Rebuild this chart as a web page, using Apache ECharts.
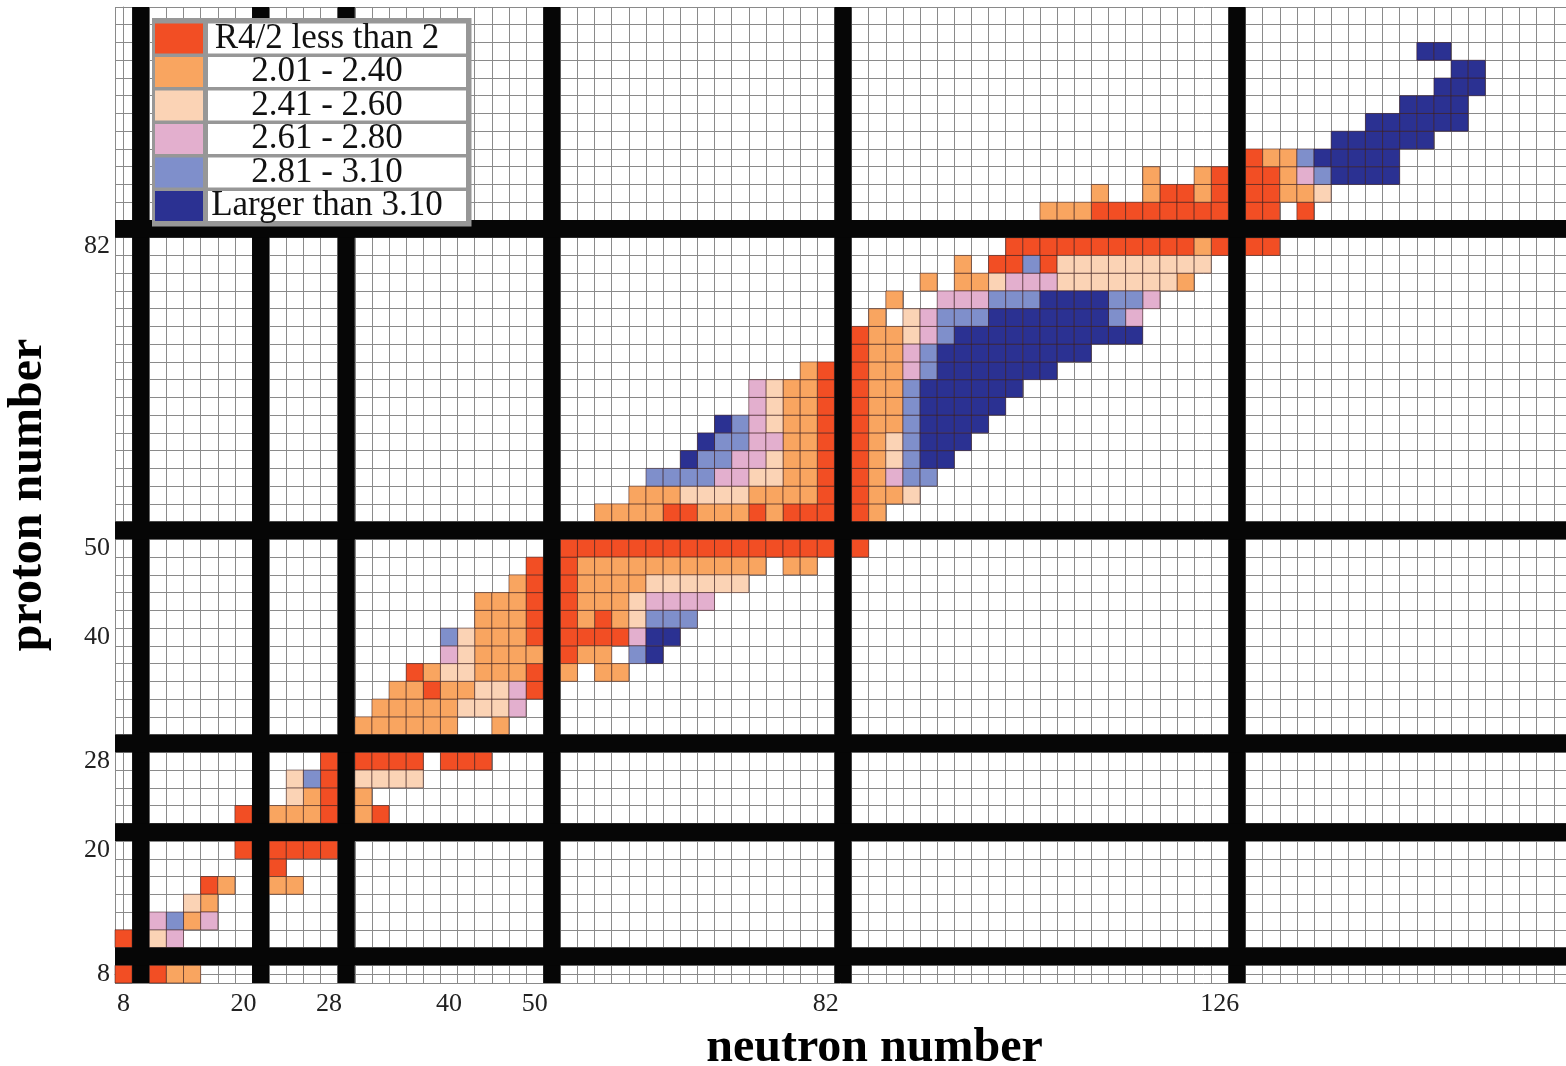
<!DOCTYPE html>
<html>
<head>
<meta charset="utf-8">
<script src="https://cdn.jsdelivr.net/npm/echarts@6/dist/echarts.min.js"></script>
<style>
html,body{margin:0;padding:0;background:#fff;}
#chart{width:1566px;height:1066px;}
</style>
</head>
<body>
<div id="chart"></div>
<script>
// ---- data ----
const CLASS_KEYS = ['R','O','P','K','L','B'];
const CLASS_NAMES = ['R4/2 less than 2','2.01 - 2.40','2.41 - 2.60','2.61 - 2.80','2.81 - 3.10','Larger than 3.10'];
const CLASS_COLORS = ['#F24E24','#F9A560','#FBD3B5','#E3AFCE','#7F8FCB','#2B3192'];

const N_MAGIC = [8,20,28,50,82,126];
const Z_MAGIC = [8,20,28,50,82];
const N_RANGE = [8,164];
const Z_RANGE = [8,106];
const N_TICKS = [8,20,28,40,50,82,126];
const Z_TICKS = [8,20,28,40,50,82];

// runs of even-even nuclei: [Z, N from, N to, R4/2 class]
const R42_RUNS = [
 [8,8,8,'R'],[8,10,10,'R'],[8,12,14,'O'],
 [10,8,8,'R'],[10,10,10,'P'],[10,12,12,'K'],
 [12,10,10,'K'],[12,12,12,'L'],[12,14,14,'O'],[12,16,16,'K'],
 [14,14,14,'P'],[14,16,16,'O'],
 [16,16,16,'R'],[16,18,18,'O'],[16,22,24,'O'],
 [18,22,22,'R'],
 [20,20,20,'R'],[20,22,28,'R'],
 [22,20,20,'R'],[22,22,26,'O'],[22,28,28,'R'],[22,30,30,'O'],[22,32,32,'R'],
 [24,24,24,'P'],[24,26,26,'O'],[24,28,28,'R'],[24,30,30,'O'],
 [26,24,24,'P'],[26,26,26,'L'],[26,28,28,'R'],[26,30,36,'P'],
 [28,28,28,'R'],[28,30,36,'R'],[28,40,44,'R'],
 [30,30,40,'O'],[30,46,46,'O'],
 [32,32,40,'O'],[32,42,46,'P'],[32,48,48,'K'],
 [34,34,36,'O'],[34,38,38,'R'],[34,40,42,'O'],[34,44,46,'P'],[34,48,48,'K'],[34,50,50,'R'],
 [36,36,36,'R'],[36,38,38,'O'],[36,40,42,'P'],[36,44,48,'O'],[36,50,50,'R'],[36,52,52,'O'],[36,56,58,'O'],
 [38,40,40,'K'],[38,42,42,'P'],[38,44,50,'O'],[38,52,52,'R'],[38,54,56,'O'],[38,60,60,'L'],[38,62,62,'B'],
 [40,40,40,'L'],[40,42,42,'P'],[40,44,48,'O'],[40,50,50,'R'],[40,52,58,'R'],[40,60,60,'K'],[40,62,64,'B'],
 [42,44,48,'O'],[42,50,52,'R'],[42,54,54,'O'],[42,56,56,'R'],[42,58,58,'O'],[42,60,60,'P'],[42,62,66,'L'],
 [44,44,48,'O'],[44,50,52,'R'],[44,54,58,'O'],[44,60,60,'P'],[44,62,68,'K'],
 [46,48,48,'O'],[46,50,52,'R'],[46,54,60,'O'],[46,62,72,'P'],
 [48,50,52,'R'],[48,54,74,'O'],[48,78,80,'O'],
 [50,52,84,'R'],
 [52,56,62,'O'],[52,64,66,'R'],[52,68,72,'O'],[52,74,74,'R'],[52,76,76,'O'],[52,78,84,'R'],[52,86,86,'O'],
 [54,60,64,'O'],[54,66,72,'P'],[54,74,80,'O'],[54,82,84,'R'],[54,86,88,'O'],[54,90,90,'P'],
 [56,62,68,'L'],[56,70,72,'K'],[56,74,76,'P'],[56,78,80,'O'],[56,82,84,'R'],[56,86,86,'O'],[56,88,88,'K'],[56,90,92,'L'],
 [58,66,66,'B'],[58,68,70,'L'],[58,72,74,'K'],[58,76,76,'P'],[58,78,80,'O'],[58,82,84,'R'],[58,86,86,'O'],[58,88,88,'P'],[58,90,90,'L'],[58,92,94,'B'],
 [60,68,68,'B'],[60,70,72,'L'],[60,74,76,'K'],[60,78,80,'O'],[60,82,84,'R'],[60,86,86,'O'],[60,88,88,'P'],[60,90,90,'L'],[60,92,96,'B'],
 [62,70,70,'B'],[62,72,72,'L'],[62,74,74,'K'],[62,76,76,'P'],[62,78,80,'O'],[62,82,84,'R'],[62,86,88,'O'],[62,90,90,'L'],[62,92,98,'B'],
 [64,74,74,'K'],[64,76,76,'P'],[64,78,80,'O'],[64,82,84,'R'],[64,86,88,'O'],[64,90,90,'L'],[64,92,100,'B'],
 [66,74,74,'K'],[66,76,76,'P'],[66,78,80,'O'],[66,82,84,'R'],[66,86,88,'O'],[66,90,90,'L'],[66,92,102,'B'],
 [68,80,80,'O'],[68,82,84,'R'],[68,86,88,'O'],[68,90,90,'K'],[68,92,92,'L'],[68,94,106,'B'],
 [70,84,84,'R'],[70,86,88,'O'],[70,90,90,'K'],[70,92,92,'L'],[70,94,110,'B'],
 [72,84,84,'R'],[72,86,88,'O'],[72,90,90,'P'],[72,92,92,'K'],[72,94,94,'L'],[72,96,116,'B'],
 [74,86,86,'O'],[74,90,90,'P'],[74,92,92,'K'],[74,94,98,'L'],[74,100,112,'B'],[74,114,114,'L'],[74,116,116,'K'],
 [76,88,88,'O'],[76,94,98,'K'],[76,100,104,'L'],[76,106,112,'B'],[76,114,116,'L'],[76,118,118,'K'],
 [78,92,92,'O'],[78,96,98,'O'],[78,100,100,'P'],[78,102,106,'K'],[78,108,120,'P'],[78,122,122,'O'],
 [80,96,96,'O'],[80,100,102,'R'],[80,104,104,'L'],[80,106,106,'R'],[80,108,124,'P'],
 [82,102,122,'R'],[82,124,124,'O'],[82,126,130,'R'],
 [84,106,110,'O'],[84,112,130,'R'],[84,134,134,'R'],
 [86,112,112,'O'],[86,118,118,'O'],[86,120,122,'R'],[86,124,124,'O'],[86,126,130,'R'],[86,132,134,'O'],[86,136,136,'P'],
 [88,118,118,'O'],[88,124,124,'O'],[88,126,130,'R'],[88,132,132,'O'],[88,134,134,'K'],[88,136,136,'L'],[88,138,144,'B'],
 [90,128,128,'R'],[90,130,132,'O'],[90,134,134,'L'],[90,136,144,'B'],
 [92,138,148,'B'],
 [94,142,152,'B'],
 [96,146,152,'B'],
 [98,150,154,'B'],
 [100,152,154,'B'],
 [102,148,150,'B']
];

// ---- build cell positions (one cell per even number, plus one band after each magic number) ----
function buildCats(range, magic) {
  const cats = [];
  for (let v = range[0]; v <= range[1]; v += 2) {
    cats.push(String(v));
    if (magic.includes(v)) cats.push('m' + v);
  }
  return cats;
}
const nCats = buildCats(N_RANGE, N_MAGIC);   // 85 columns
const zCats = buildCats(Z_RANGE, Z_MAGIC);   // 55 rows

const classData = CLASS_KEYS.map(() => []);
R42_RUNS.forEach(([z, n1, n2, cls]) => {
  const k = CLASS_KEYS.indexOf(cls);
  for (let n = n1; n <= n2; n += 2) {
    classData[k].push([nCats.indexOf(String(n)), zCats.indexOf(String(z))]);
  }
});
const magicData = [];
N_MAGIC.forEach(m => magicData.push([nCats.indexOf('m' + m), 0]));
Z_MAGIC.forEach(m => magicData.push([zCats.indexOf('m' + m), 1]));

const nLabelAt = {}; N_TICKS.forEach(n => { nLabelAt[nCats.indexOf(String(n))] = String(n); });
const zLabelAt = {}; Z_TICKS.forEach(z => { zLabelAt[zCats.indexOf(String(z))] = String(z); });

const FONT = 'Liberation Serif';
const GRID_LINE = '#8a8a8a';
const LEGEND_GRAY = '#979797';

function cellItem(params, api) {
  const p = api.coord([api.value(0), api.value(1)]);
  const s = api.size([1, 1]);
  return {
    type: 'rect',
    shape: { x: p[0] - s[0] / 2, y: p[1] - s[1] / 2, width: s[0], height: s[1] },
    style: { fill: api.visual('color'), stroke: 'rgba(60,30,30,0.55)', lineWidth: 1 }
  };
}
function magicItem(params, api) {
  const cs = params.coordSys;
  const idx = api.value(0);
  const s = api.size([1, 1]);
  if (api.value(1) === 0) {
    const p = api.coord([idx, 0]);
    return { type: 'rect', shape: { x: p[0] - s[0] / 2, y: cs.y, width: s[0], height: cs.height }, style: { fill: '#060606' } };
  } else {
    const p = api.coord([0, idx]);
    return { type: 'rect', shape: { x: cs.x, y: p[1] - s[1] / 2, width: cs.width, height: s[1] }, style: { fill: '#060606' } };
  }
}

const series = CLASS_KEYS.map((k, i) => ({
  name: CLASS_NAMES[i],
  type: 'custom',
  renderItem: cellItem,
  itemStyle: { color: CLASS_COLORS[i] },
  data: classData[i],
  z: 3,
  silent: true
}));
series.push({
  name: 'magic',
  type: 'custom',
  renderItem: magicItem,
  data: magicData,
  z: 4,
  silent: true
});

const chart = echarts.init(document.getElementById('chart'), null, { renderer: 'canvas' });
chart.setOption({
  animation: false,
  backgroundColor: '#fff',
  grid: { left: 115, top: 7, right: 0, bottom: 83, containLabel: false, outerBoundsMode: 'none' },
  xAxis: {
    type: 'value',
    min: -0.5, max: 84.21, interval: 1,
    axisTick: { show: false },
    axisLine: { show: true, lineStyle: { color: GRID_LINE, width: 1 } },
    splitLine: { show: true, lineStyle: { color: GRID_LINE, width: 1 } },
    axisLabel: {
      customValues: Object.keys(nLabelAt).map(Number),
      margin: 8,
      fontFamily: FONT, fontSize: 26, color: '#222',
      formatter: v => nLabelAt[Math.round(v)] || ''
    },
    name: 'neutron number',
    nameLocation: 'middle',
    nameGap: 42,
    nameTextStyle: { fontFamily: FONT, fontWeight: 'bold', fontSize: 48, color: '#000', padding: [0, 0, 0, 68] }
  },
  yAxis: {
    type: 'value',
    min: -0.5, max: 54.5, interval: 1,
    axisTick: { show: false },
    axisLine: { show: true, lineStyle: { color: GRID_LINE, width: 1 } },
    splitLine: { show: true, lineStyle: { color: GRID_LINE, width: 1 } },
    axisLabel: {
      customValues: Object.keys(zLabelAt).map(Number),
      margin: 5,
      fontFamily: FONT, fontSize: 26, color: '#222',
      formatter: v => zLabelAt[Math.round(v)] || ''
    },
    name: 'proton number',
    nameLocation: 'middle',
    nameGap: 62,
    nameRotate: 90,
    nameTextStyle: { fontFamily: FONT, fontWeight: 'bold', fontSize: 48, color: '#000' }
  },
  legend: {
    data: CLASS_NAMES,
    orient: 'vertical',
    left: 152, top: 18,
    z: 20,
    itemWidth: 48, itemHeight: 30, itemGap: -1.5,
    padding: 3,
    backgroundColor: LEGEND_GRAY,
    icon: 'rect',
    selectedMode: false,
    itemStyle: { borderWidth: 0 },
    formatter: name => '{t|' + name + '}',
    textStyle: {
      fontSize: 30, lineHeight: 30,
      rich: {
        t: { width: 238, height: 30, lineHeight: 30, padding: [0, 20, 0, 0], align: 'center',
             backgroundColor: '#fff', borderColor: LEGEND_GRAY, borderWidth: 2.5,
             fontFamily: FONT, fontSize: 35, color: '#111' }
      }
    }
  },
  series: series
});
</script>
</body>
</html>
